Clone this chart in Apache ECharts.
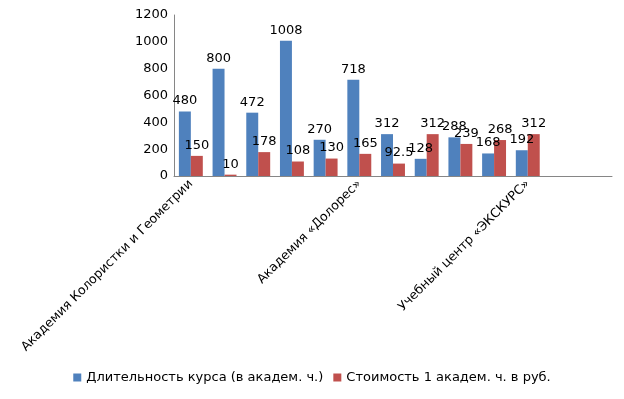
<!DOCTYPE html>
<html>
<head>
<meta charset="utf-8">
<script src="https://cdn.jsdelivr.net/npm/echarts@6/dist/echarts.min.js"></script>
<style>
  html, body { margin: 0; padding: 0; background: #fff; }
  #main { width: 624px; height: 399px; }
</style>
</head>
<body>
<div id="main"></div>
<script>
// only every 5th category name is printed on the axis
var categories = [
  'Академия Колористки и Геометрии', '', '', '', '',
  'Академия «Долорес»', '', '', '', '',
  'Учебный центр «ЭКСКУРС»', '', ''
];
var hours = [480, 800, 472, 1008, 270, 718, 312, 128, 288, 168, 192, null, null];
var price = [150, 10, 178, 108, 130, 165, 92.5, 312, 239, 268, 312, null, null];
var seriesNames = ['Длительность курса (в академ. ч.)', 'Стоимость 1 академ. ч. в руб.'];

var myChart = echarts.init(document.getElementById('main'));
var font = 'DejaVu Sans';

var labelStyle = {
  show: true,
  position: 'top',
  distance: 4,
  color: '#000',
  fontFamily: font,
  fontSize: 13
};

var option = {
  animation: false,
  grid: { left: 174, right: 12, top: 15, bottom: 223 },
  legend: {
    bottom: 10,
    left: 'center',
    itemWidth: 8,
    itemHeight: 8,
    itemGap: 10,
    icon: 'rect',
    textStyle: { fontFamily: font, fontSize: 13, color: '#000' },
    data: seriesNames
  },
  xAxis: {
    type: 'category',
    data: categories,
    axisLine: { lineStyle: { color: '#868686' } },
    axisTick: { show: false },
    axisLabel: {
      interval: 4,
      rotate: 45,
      margin: 6,
      color: '#000',
      fontFamily: font,
      fontSize: 12.6
    }
  },
  yAxis: {
    type: 'value',
    min: 0,
    max: 1200,
    interval: 200,
    splitLine: { show: false },
    axisLine: { show: true, lineStyle: { color: '#868686' } },
    axisTick: { show: false },
    axisLabel: {
      color: '#000',
      fontFamily: font,
      fontSize: 13,
      margin: 6,
      formatter: function (v) { return String(v); }
    }
  },
  series: [
    {
      name: seriesNames[0],
      type: 'bar',
      data: hours,
      barGap: '0%',
      barCategoryGap: '29%',
      itemStyle: { color: '#4F81BD' },
      label: labelStyle
    },
    {
      name: seriesNames[1],
      type: 'bar',
      data: price,
      itemStyle: { color: '#C0504D' },
      label: labelStyle
    }
  ]
};

option && myChart.setOption(option);
</script>
</body>
</html>
